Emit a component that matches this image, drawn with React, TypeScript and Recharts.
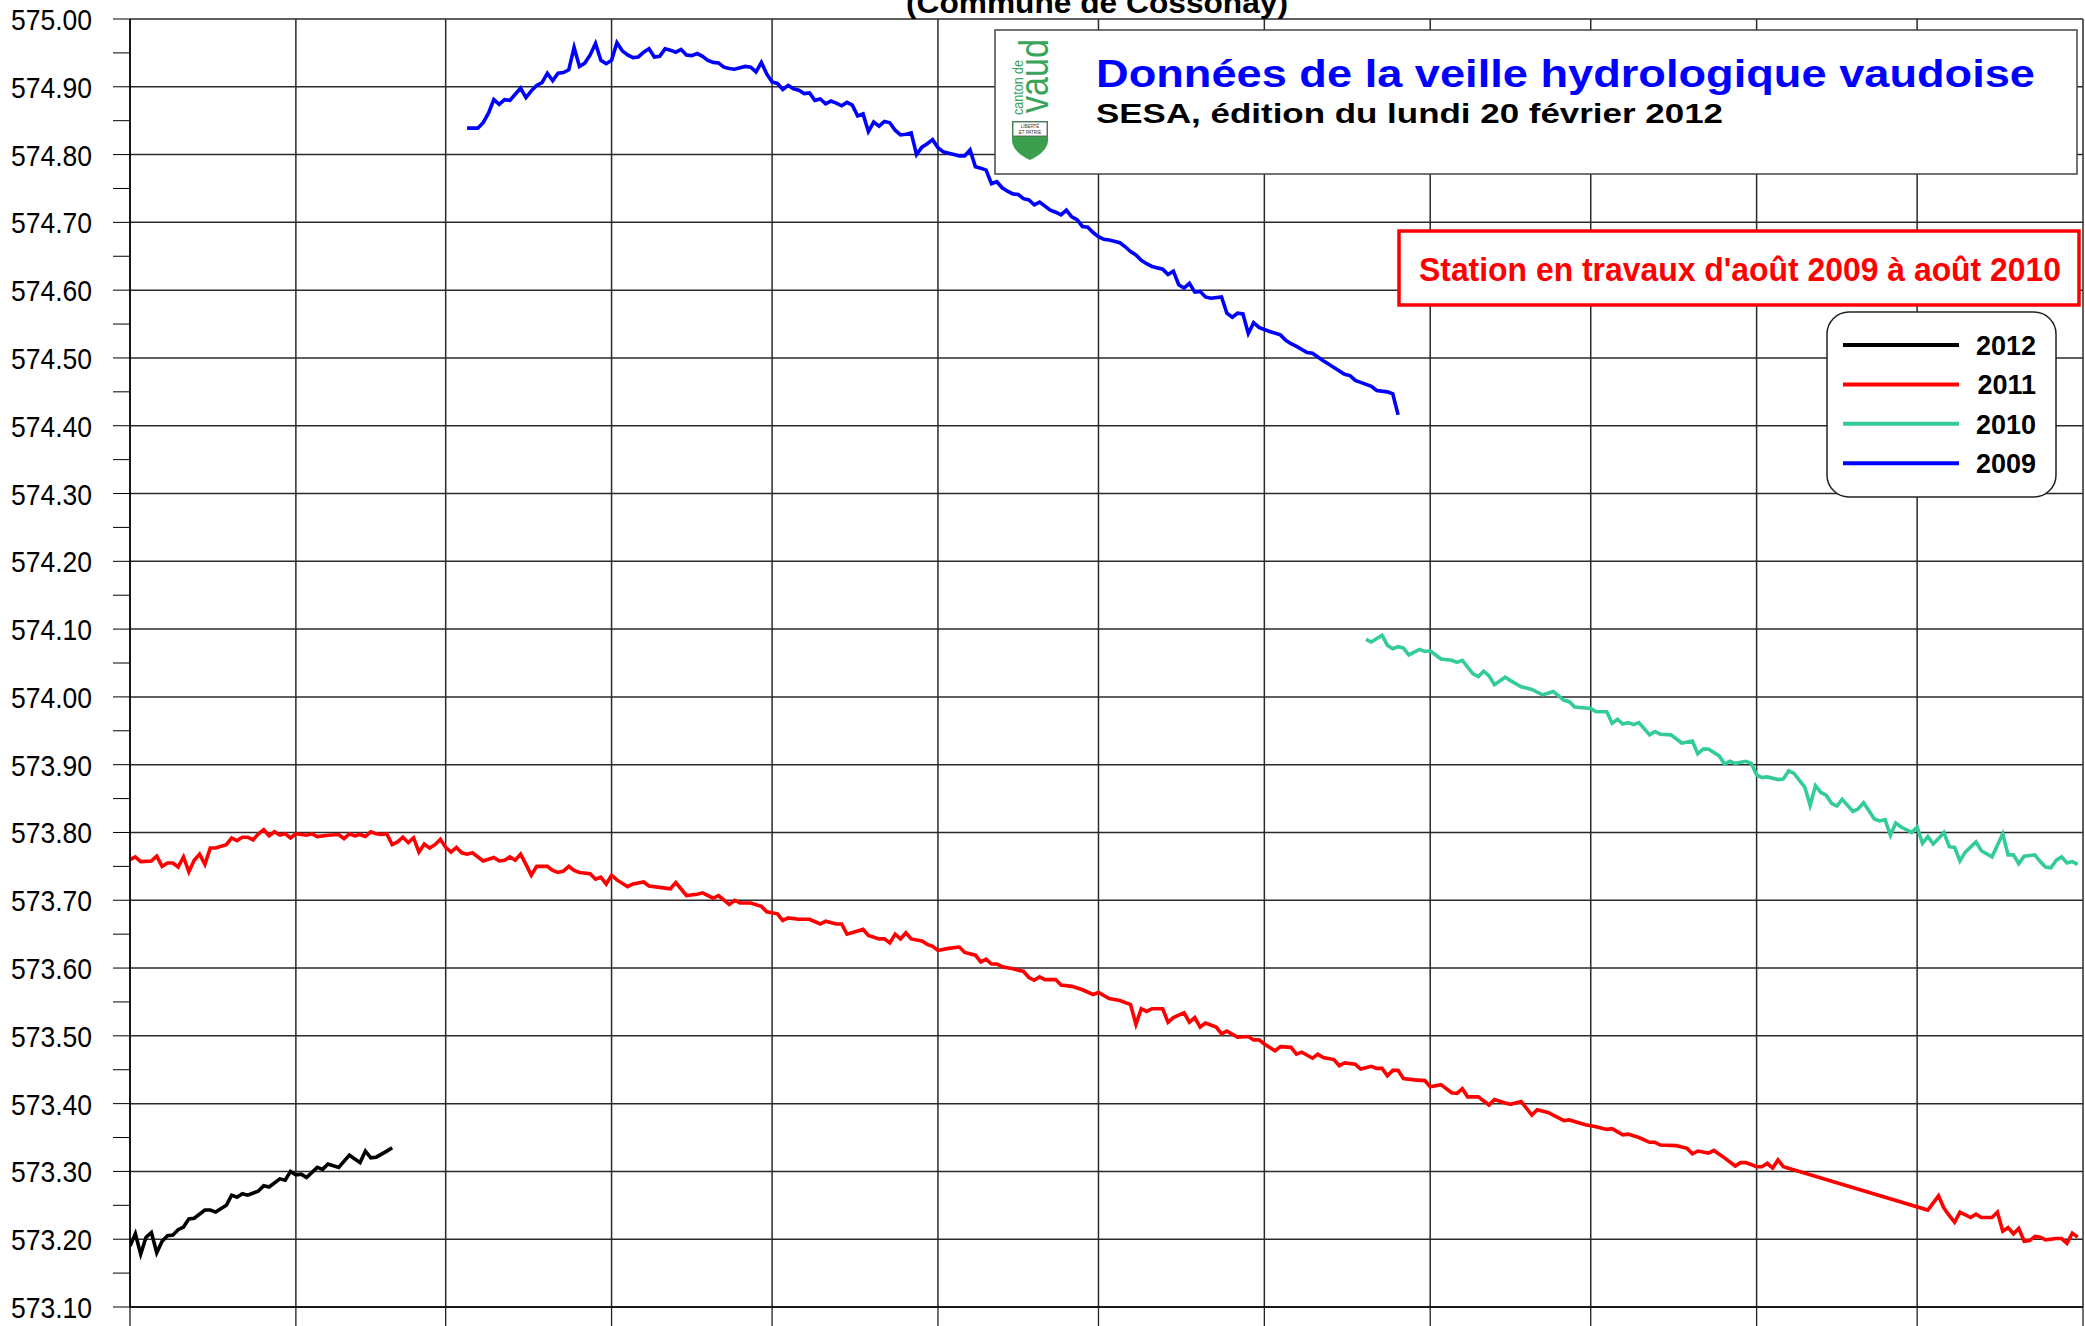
import React from "react";
import { LineChart, Line, XAxis, YAxis, CartesianGrid, Legend } from "recharts";

const W = 2085;
const H = 1326;
const FONT = "'Liberation Sans', Arial, Helvetica, sans-serif";

// [day of year (0 = 1er janvier), niveau du lac en m]
const lake2012: [number, number][] = [
  [0, 573.19], [1, 573.208], [2, 573.178], [3, 573.203], [4, 573.21], [5, 573.18], [6, 573.197],
  [7, 573.205], [8, 573.206], [9, 573.214], [10, 573.218], [11, 573.23], [12, 573.231], [14, 573.243],
  [15, 573.243], [16, 573.24], [18, 573.25], [19, 573.265], [20, 573.262], [21, 573.267], [22, 573.265],
  [24, 573.271], [25, 573.279], [26, 573.277], [28, 573.289], [29, 573.287], [30, 573.3], [31, 573.295],
  [32, 573.296], [33, 573.291], [35, 573.306], [36, 573.303], [37, 573.311], [39, 573.306], [41, 573.324],
  [43, 573.313], [44, 573.33], [45, 573.32], [46, 573.321], [48, 573.33], [49, 573.335],
];

const lake2011: [number, number][] = [
  [0, 573.76], [1, 573.764], [2, 573.757], [4, 573.758], [5, 573.765], [6, 573.75], [7, 573.755],
  [8, 573.755], [9, 573.749], [10, 573.764], [11, 573.742], [12, 573.759], [13, 573.768], [14, 573.753],
  [15, 573.777], [16, 573.777], [18, 573.782], [19, 573.792], [20, 573.788], [21, 573.793], [22, 573.793],
  [23, 573.789], [24, 573.798], [25, 573.804], [26, 573.795], [27, 573.801], [28, 573.796], [29, 573.798],
  [30, 573.792], [31, 573.798], [33, 573.796], [34, 573.798], [35, 573.794], [37, 573.796], [39, 573.797],
  [40, 573.791], [41, 573.798], [42, 573.795], [43, 573.797], [44, 573.794], [45, 573.801], [46, 573.798],
  [47, 573.797], [48, 573.798], [49, 573.782], [50, 573.786], [51, 573.793], [52, 573.785], [53, 573.792],
  [54, 573.771], [55, 573.783], [56, 573.777], [57, 573.782], [58, 573.79], [59, 573.778], [60, 573.771],
  [61, 573.778], [62, 573.77], [63, 573.768], [64, 573.77], [66, 573.758], [68, 573.763], [69, 573.758],
  [70, 573.759], [71, 573.764], [72, 573.759], [73, 573.768], [74, 573.753], [75, 573.737], [76, 573.75],
  [78, 573.75], [79, 573.744], [80, 573.741], [81, 573.743], [82, 573.75], [83, 573.744], [84, 573.741],
  [86, 573.739], [87, 573.731], [88, 573.734], [89, 573.724], [90, 573.737], [91, 573.73], [93, 573.72],
  [94, 573.724], [96, 573.727], [97, 573.721], [99, 573.719], [101, 573.717], [102, 573.726], [104, 573.707],
  [106, 573.709], [107, 573.711], [109, 573.703], [110, 573.707], [112, 573.694], [113, 573.7], [114, 573.696],
  [116, 573.696], [118, 573.691], [119, 573.683], [121, 573.68], [122, 573.67], [123, 573.674], [125, 573.672],
  [127, 573.672], [129, 573.665], [130, 573.669], [132, 573.665], [133, 573.665], [134, 573.65], [137, 573.657],
  [138, 573.648], [140, 573.643], [141, 573.643], [142, 573.637], [143, 573.65], [144, 573.643], [145, 573.652],
  [146, 573.643], [148, 573.64], [149, 573.635], [150, 573.632], [151, 573.626], [153, 573.629], [155, 573.631],
  [156, 573.623], [158, 573.619], [159, 573.609], [160, 573.613], [161, 573.606], [162, 573.606], [163, 573.602],
  [165, 573.599], [167, 573.595], [168, 573.586], [169, 573.582], [170, 573.587], [171, 573.583], [173, 573.583],
  [174, 573.575], [176, 573.573], [178, 573.568], [180, 573.561], [181, 573.564], [183, 573.555], [185, 573.552],
  [187, 573.546], [188, 573.517], [189, 573.54], [190, 573.536], [191, 573.54], [193, 573.54], [194, 573.52],
  [195, 573.527], [197, 573.534], [198, 573.52], [199, 573.527], [200, 573.513], [201, 573.519], [203, 573.513],
  [204, 573.503], [205, 573.507], [207, 573.498], [209, 573.499], [210, 573.494], [211, 573.494], [212, 573.488],
  [214, 573.478], [215, 573.484], [217, 573.483], [218, 573.473], [219, 573.476], [221, 573.467], [222, 573.473],
  [223, 573.468], [225, 573.465], [226, 573.456], [227, 573.46], [229, 573.458], [230, 573.451], [232, 573.455],
  [233, 573.452], [234, 573.452], [235, 573.441], [236, 573.449], [237, 573.449], [238, 573.437], [240, 573.435],
  [242, 573.434], [243, 573.425], [245, 573.428], [247, 573.416], [248, 573.415], [249, 573.422], [250, 573.41],
  [252, 573.41], [254, 573.398], [255, 573.406], [257, 573.401], [258, 573.399], [260, 573.403], [262, 573.383],
  [263, 573.391], [265, 573.387], [268, 573.375], [269, 573.376], [272, 573.369], [274, 573.366], [276, 573.362],
  [277, 573.363], [279, 573.354], [280, 573.355], [282, 573.35], [284, 573.343], [285, 573.343], [286, 573.339],
  [289, 573.338], [291, 573.334], [292, 573.326], [293, 573.33], [295, 573.327], [296, 573.331], [298, 573.32],
  [300, 573.308], [301, 573.313], [302, 573.313], [304, 573.307], [305, 573.307], [306, 573.312], [307, 573.305],
  [308, 573.317], [309, 573.307], [336, 573.243], [338, 573.264], [339, 573.246], [340, 573.235], [341, 573.225],
  [342, 573.24], [344, 573.232], [345, 573.237], [346, 573.232], [348, 573.232], [349, 573.24], [350, 573.212],
  [351, 573.217], [352, 573.208], [353, 573.216], [354, 573.197], [355, 573.198], [356, 573.204], [357, 573.203],
  [358, 573.199], [360, 573.201], [361, 573.201], [362, 573.194], [363, 573.209], [364, 573.203],
];

const lake2010: [number, number][] = [
  [231, 574.085], [232, 574.081], [234, 574.091], [235, 574.076], [236, 574.071], [237, 574.074], [238, 574.072],
  [239, 574.062], [241, 574.07], [242, 574.067], [243, 574.068], [245, 574.056], [247, 574.054], [248, 574.051],
  [249, 574.054], [251, 574.034], [252, 574.03], [253, 574.038], [254, 574.031], [255, 574.018], [257, 574.029],
  [258, 574.024], [260, 574.015], [262, 574.011], [264, 574.003], [266, 574.008], [268, 573.995], [269, 573.993],
  [270, 573.985], [273, 573.983], [274, 573.978], [276, 573.978], [277, 573.961], [278, 573.967], [279, 573.96],
  [280, 573.962], [281, 573.959], [282, 573.962], [284, 573.944], [285, 573.949], [286, 573.945], [288, 573.944],
  [290, 573.932], [292, 573.935], [293, 573.916], [294, 573.923], [295, 573.923], [297, 573.913], [298, 573.901],
  [299, 573.905], [300, 573.902], [302, 573.905], [303, 573.902], [304, 573.885], [305, 573.881], [306, 573.882],
  [308, 573.878], [309, 573.879], [310, 573.891], [311, 573.887], [312, 573.877], [313, 573.867], [314, 573.84],
  [315, 573.869], [316, 573.859], [317, 573.855], [318, 573.843], [319, 573.839], [320, 573.849], [321, 573.84],
  [322, 573.831], [323, 573.835], [324, 573.844], [325, 573.832], [326, 573.82], [327, 573.817], [328, 573.819],
  [329, 573.796], [330, 573.814], [331, 573.808], [332, 573.804], [333, 573.8], [334, 573.808], [335, 573.784],
  [336, 573.794], [337, 573.783], [338, 573.791], [339, 573.8], [340, 573.779], [341, 573.778], [342, 573.758],
  [343, 573.771], [345, 573.786], [346, 573.773], [348, 573.764], [350, 573.798], [351, 573.767], [352, 573.767],
  [353, 573.754], [354, 573.765], [356, 573.767], [357, 573.757], [358, 573.749], [359, 573.748], [360, 573.759],
  [361, 573.764], [362, 573.755], [363, 573.757], [364, 573.753],
];

const lake2009: [number, number][] = [
  [63, 574.839], [65, 574.839], [66, 574.847], [67, 574.861], [68, 574.881], [69, 574.874], [70, 574.881],
  [71, 574.88], [72, 574.889], [73, 574.898], [74, 574.884], [75, 574.894], [76, 574.902], [77, 574.906],
  [78, 574.92], [79, 574.909], [80, 574.92], [81, 574.921], [82, 574.925], [83, 574.958], [84, 574.93],
  [85, 574.935], [86, 574.947], [87, 574.964], [88, 574.939], [89, 574.934], [90, 574.939], [91, 574.965],
  [92, 574.953], [93, 574.947], [94, 574.943], [95, 574.944], [96, 574.951], [97, 574.956], [98, 574.944],
  [99, 574.945], [100, 574.956], [101, 574.954], [102, 574.951], [103, 574.955], [104, 574.947], [105, 574.946],
  [106, 574.949], [107, 574.945], [108, 574.939], [109, 574.936], [110, 574.935], [111, 574.929], [112, 574.927],
  [113, 574.926], [114, 574.928], [115, 574.93], [116, 574.929], [117, 574.922], [118, 574.936], [119, 574.919],
  [120, 574.907], [121, 574.905], [122, 574.896], [123, 574.902], [124, 574.897], [125, 574.895], [126, 574.89],
  [127, 574.891], [128, 574.88], [129, 574.882], [130, 574.875], [131, 574.879], [132, 574.876], [133, 574.872],
  [134, 574.877], [135, 574.873], [136, 574.857], [137, 574.86], [138, 574.834], [139, 574.848], [140, 574.842],
  [141, 574.849], [142, 574.847], [143, 574.836], [144, 574.829], [145, 574.83], [146, 574.832], [147, 574.8],
  [148, 574.811], [149, 574.816], [150, 574.822], [151, 574.81], [152, 574.804], [153, 574.802], [154, 574.8],
  [155, 574.798], [156, 574.798], [157, 574.807], [158, 574.782], [159, 574.78], [160, 574.777], [161, 574.757],
  [162, 574.76], [163, 574.751], [164, 574.746], [165, 574.742], [166, 574.741], [167, 574.735], [168, 574.733],
  [169, 574.726], [170, 574.73], [171, 574.724], [172, 574.718], [173, 574.715], [174, 574.711], [175, 574.718],
  [176, 574.708], [177, 574.704], [178, 574.694], [179, 574.693], [180, 574.685], [181, 574.679], [182, 574.675],
  [183, 574.674], [185, 574.67], [186, 574.664], [187, 574.657], [188, 574.652], [189, 574.644], [190, 574.639],
  [191, 574.635], [193, 574.631], [194, 574.623], [195, 574.628], [196, 574.608], [197, 574.603], [198, 574.61],
  [199, 574.597], [200, 574.598], [201, 574.59], [202, 574.588], [204, 574.59], [205, 574.566], [206, 574.56],
  [207, 574.566], [208, 574.565], [209, 574.536], [210, 574.552], [211, 574.545], [212, 574.542], [213, 574.539],
  [215, 574.534], [216, 574.526], [217, 574.521], [218, 574.517], [220, 574.508], [221, 574.507], [223, 574.496],
  [224, 574.491], [225, 574.486], [227, 574.476], [228, 574.474], [229, 574.467], [230, 574.464], [232, 574.458],
  [233, 574.452], [235, 574.45], [236, 574.447], [237, 574.416],
];

// first day of each month (grid lines)
const monthStarts = [0, 31, 59, 90, 120, 151, 181, 212, 243, 273, 304, 334, 365];

const yMajor = [
  573.1, 573.2, 573.3, 573.4, 573.5, 573.6, 573.7, 573.8, 573.9, 574.0,
  574.1, 574.2, 574.3, 574.4, 574.5, 574.6, 574.7, 574.8, 574.9, 575.0,
];
const yMinor = [
  573.15, 573.25, 573.35, 573.45, 573.55, 573.65, 573.75, 573.85, 573.95,
  574.05, 574.15, 574.25, 574.35, 574.45, 574.55, 574.65, 574.75, 574.85, 574.95,
];

const series = [
  { key: "y2012", name: "2012", color: "#000000", points: lake2012 },
  { key: "y2011", name: "2011", color: "#ff0000", points: lake2011 },
  { key: "y2010", name: "2010", color: "#33cc99", points: lake2010 },
  { key: "y2009", name: "2009", color: "#0000ff", points: lake2009 },
];

const rowMap = new Map<number, any>();
series.forEach((s) => {
  s.points.forEach(([day, v]) => {
    const row = rowMap.get(day) ?? { day };
    row[s.key] = v;
    rowMap.set(day, row);
  });
});
const rows = Array.from(rowMap.values()).sort((a, b) => a.day - b.day);

const yTicks = [...yMajor, ...yMinor].sort((a, b) => a - b);

const YTick = (props: any) => {
  const { y, payload } = props;
  const v = payload.value as number;
  if (Math.round(v * 100) % 10 !== 0) return <g />;
  return (
    <text
      x={92}
      y={y + 11}
      textAnchor="end"
      fontFamily={FONT}
      fontSize={30}
      fill="#000"
      textLength={81}
      lengthAdjust="spacingAndGlyphs"
    >
      {v.toFixed(2)}
    </text>
  );
};

const NoTick = () => <g />;

const LegendBox = (props: any) => {
  const items = [...(props.payload || [])].sort((a: any, b: any) => Number(b.value) - Number(a.value));
  return (
    <svg width={232} height={188} style={{ display: "block" }}>
      <rect x={1} y={1} width={229} height={185} rx={22} fill="#fff" stroke="#222" strokeWidth={1.5} />
      {items.map((p: any, i: number) => {
        const y = 34 + i * 39.4;
        return (
          <g key={p.value}>
            <line x1={17} x2={133} y1={y} y2={y} stroke={p.color} strokeWidth={4} />
            <text x={210} y={y + 10} textAnchor="end" fontFamily={FONT} fontWeight="bold" fontSize={27} fill="#000">
              {p.value}
            </text>
          </g>
        );
      })}
    </svg>
  );
};

export default function App() {
  return (
    <div style={{ position: "absolute", left: 0, top: 0, width: W, height: H, background: "#fff", overflow: "hidden" }}>
      <LineChart width={W} height={H} data={rows} margin={{ top: 19, right: 2, bottom: 0, left: 0 }}>
        <CartesianGrid
          horizontalValues={yMajor}
          verticalValues={monthStarts}
          stroke="#2a2a2a"
          strokeWidth={1.5}
        />
        <XAxis
          type="number"
          dataKey="day"
          domain={[0, 365]}
          ticks={monthStarts}
          interval={0}
          allowDataOverflow
          tick={<NoTick />}
          tickSize={19}
          height={19}
          axisLine={{ stroke: "#000", strokeWidth: 1.5 }}
          tickLine={{ stroke: "#222", strokeWidth: 1.3 }}
        />
        <YAxis
          type="number"
          domain={[573.1, 575]}
          ticks={yTicks}
          interval={0}
          allowDataOverflow
          width={130}
          tickSize={17}
          tick={<YTick />}
          axisLine={{ stroke: "#000", strokeWidth: 1.5 }}
          tickLine={{ stroke: "#000" }}
        />
        {series.map((s) => (
          <Line
            key={s.key}
            type="linear"
            dataKey={s.key}
            name={s.name}
            stroke={s.color}
            strokeWidth={3.6}
            dot={false}
            connectNulls
            isAnimationActive={false}
          />
        ))}
        <Legend
          layout="vertical"
          align="center"
          verticalAlign="middle"
          content={<LegendBox />}
          wrapperStyle={{ position: "absolute", left: 1826, top: 311, width: 232, height: 188 }}
        />
      </LineChart>

      <svg width={W} height={H} style={{ position: "absolute", left: 0, top: 0, pointerEvents: "none" }}>
        <text x={1097} y={13} textAnchor="middle" fontFamily={FONT} fontWeight="bold" fontSize={30} textLength={382} lengthAdjust="spacingAndGlyphs">
          (Commune de Cossonay)
        </text>

        <rect x={995} y={30} width={1082} height={144} fill="#fff" stroke="#444" strokeWidth={1.5} />
        <text transform="translate(1023,115) rotate(-90)" fontFamily={FONT} fontSize={14} fill="#3aa35a" textLength={55} lengthAdjust="spacingAndGlyphs">
          canton de
        </text>
        <text transform="translate(1048,113) rotate(-90)" fontFamily={FONT} fontSize={40} fill="#3aa35a" textLength={74} lengthAdjust="spacingAndGlyphs">
          vaud
        </text>
        <path d="M1012,121 H1048 V141 Q1047,152 1030,160 Q1013,152 1012,141 Z" fill="#3c9f4e" />
        <rect x={1013} y={122} width={34} height={14} fill="#fff" stroke="#555" strokeWidth={0.8} />
        <text x={1030} y={128} textAnchor="middle" fontFamily={FONT} fontSize={4.5} fill="#333">LIBERTÉ</text>
        <text x={1030} y={134} textAnchor="middle" fontFamily={FONT} fontSize={4.5} fill="#333">ET PATRIE</text>
        <text x={1096} y={87} fontFamily={FONT} fontWeight="bold" fontSize={39} fill="#0000ff" textLength={939} lengthAdjust="spacingAndGlyphs">
          Données de la veille hydrologique vaudoise
        </text>
        <text x={1096} y={123} fontFamily={FONT} fontWeight="bold" fontSize={27} fill="#000" textLength={627} lengthAdjust="spacingAndGlyphs">
          SESA, édition du lundi 20 février 2012
        </text>

        <rect x={1399} y={231} width={680} height={74} fill="#fff" stroke="#ff0000" strokeWidth={3.5} />
        <text x={1419} y={280.5} fontFamily={FONT} fontWeight="bold" fontSize={33} fill="#ff0000" textLength={642} lengthAdjust="spacingAndGlyphs">
          Station en travaux d'août 2009 à août 2010
        </text>
      </svg>
    </div>
  );
}
